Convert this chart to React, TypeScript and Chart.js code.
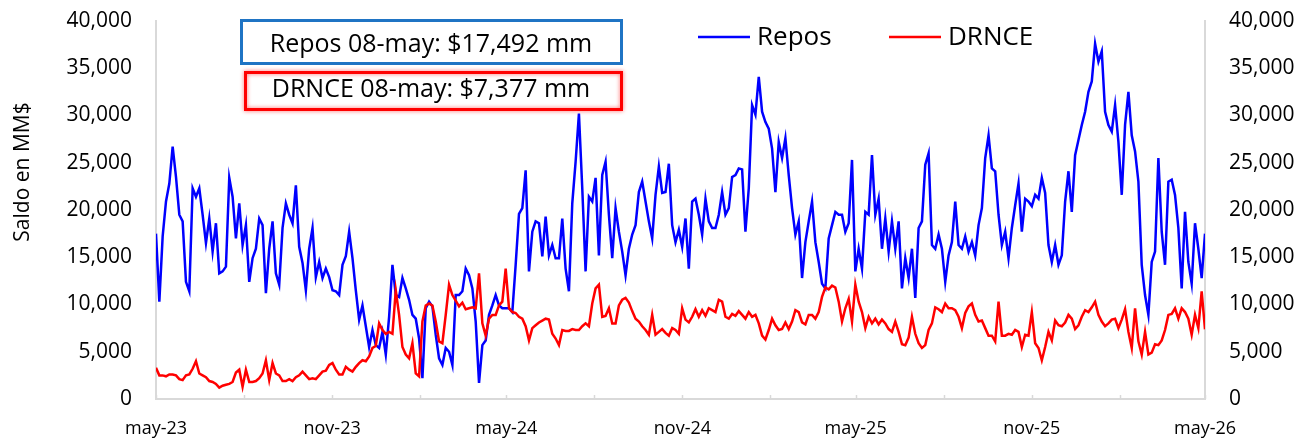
import React, { useEffect, useRef } from 'react';
import { Chart, registerables } from 'chart.js';

Chart.register(...registerables);

// ---------- data ----------
const SERIES_NAMES = ['Repos', 'DRNCE'];

// Saldo diario (MM$), may-23 .. 08-may-26
const REPOS = [
  17500, 10300, 17200, 20900, 22800, 26700, 23500, 19500, 18800, 12400,
  11400, 22300, 21400, 22300, 19500, 16500, 19100, 15600, 18600, 13300,
  13500, 14000, 23400, 21400, 17000, 20700, 16300, 18400, 12400, 14900,
  15900, 19100, 18400, 11200, 15900, 18800, 13300, 12100, 18100, 20700,
  19500, 18600, 22600, 16100, 14400, 11500, 15900, 18100, 12900, 14500,
  12800, 13800, 12900, 11500,
  11400, 11000, 14200, 15100, 17700, 14900, 11500, 8400, 9900, 7700,
  5500, 7300, 5700, 5400, 7100, 4700, 8700, 14200, 11000, 10800,
  12800, 11700, 10500, 8900, 8500, 6400, 2200, 9600, 10300, 9800,
  6800, 4300, 3600, 5400, 5000, 3600, 11000, 11000, 11400, 13800,
  13100, 11700, 8200, 1700, 5700, 6200, 8900, 9900, 11000, 9900,
  9600, 9600, 9600,
  9200, 14200, 19600, 20200, 24200, 13500, 17700, 18800, 18600, 15100,
  19300, 15200, 16300, 14900, 14900, 19100, 13800, 11400, 20700, 25100,
  30200, 22300, 13500, 21400, 20900, 23400, 15200, 23700, 25100, 19500,
  14900, 20200, 17700, 15600, 13100, 15900, 17400, 18400, 21900, 23000,
  20900, 18800, 17000, 21600, 24600, 21800, 21900, 24900, 18400, 16600,
  17900, 16100,
  19100, 13800, 20900, 21200, 19500, 17400, 21200, 18800, 18100, 18100,
  19500, 21900, 19500, 20200, 23500, 23700, 24400, 24300, 17700, 22300,
  31100, 30100, 34100, 30400, 29300, 28600, 26500, 21900, 27200, 25500,
  27600, 23700, 20200, 17400, 18800, 12800, 16600, 18800, 20900, 16600,
  14500, 12200, 11700, 17000, 18400, 19800, 19500, 19500, 17700, 18600,
  25300, 13500, 15900,
  13800, 19800, 19500, 25800, 19500, 21200, 15900, 19100, 15600, 18800,
  15900, 18800, 11700, 14900, 12800, 15900, 10700, 18100, 18800, 24800,
  26000, 16300, 15900, 17400, 15900, 12400, 15200, 16600, 20900, 16300,
  15900, 17200, 15600, 16600, 15200, 18400, 20200, 25500, 27900, 24400,
  24100, 19500, 16300, 17700, 14900, 18100, 20500, 22800, 17700, 21200,
  20900, 20400,
  21600, 21200, 23400, 21800, 16300, 14500, 16300, 14200, 15200, 20900,
  24100, 19800, 25800, 27400, 29000, 30400, 32500, 33600, 37600, 35700,
  36800, 30400, 29000, 28300, 31100, 27200, 21600, 29000, 32500, 27900,
  26200, 23000, 14200, 11000, 8900, 14500, 15600, 25500, 17700, 14200,
  23000, 23200, 21600, 18100, 11700, 19800, 14500, 12200, 18600, 15900,
  12800, 17492,
];

const DRNCE = [
  3300, 2500, 2500, 2400, 2600, 2600, 2500, 2100, 2000, 2500,
  2600, 3200, 4000, 2700, 2500, 2300, 1900, 1800, 1600, 1200,
  1400, 1500, 1600, 1800, 2800, 3100, 1300, 3100, 1800, 1800,
  1900, 2200, 2700, 4100, 2000, 3800, 2700, 2500, 1900, 1900,
  2100, 1900, 2300, 2500, 2900, 2500, 2100, 2200, 2100, 2500,
  2900, 3000, 3600, 3800,
  3100, 2600, 2600, 3400, 3100, 2900, 3400, 3800, 4100, 4000,
  4500, 5400, 5600, 8000, 7300, 6900, 7100, 6900, 11500, 8900,
  5500, 4700, 4300, 5900, 2700, 2400, 8200, 9900, 10100, 9900,
  8200, 6100, 5900, 8900, 12100, 11000, 10400, 9800, 10200, 9500,
  9600, 9700, 9600, 13300, 8000, 6700, 8500, 8900, 8900, 9900,
  10300, 13800, 9600,
  9200, 9100, 8700, 8500, 7700, 6200, 7500, 7800, 8100, 8300,
  8500, 8400, 6900, 6400, 5700, 7300, 7200, 7200, 7400, 7300,
  7300, 7700, 8000, 7700, 10100, 11700, 12100, 8700, 8800, 9600,
  8000, 8000, 9900, 10500, 10700, 10200, 9300, 8500, 8200, 7700,
  7300, 6800, 8900, 6800, 7100, 7400, 7000, 6700, 7500, 7300,
  6900, 9600,
  8400, 8100, 8700, 9500, 8700, 9400, 8800, 9600, 9400, 9200,
  10500, 10300, 8700, 8500, 9000, 8800, 9300, 8900, 8500, 9200,
  8700, 8900, 8000, 6700, 6300, 7300, 8500, 7800, 7300, 7400,
  8100, 7400, 8200, 9400, 9200, 8100, 7900, 8900, 8900, 8500,
  9200, 10800, 11800, 11600, 12000, 11800, 10300, 8200, 9600, 10600,
  8200, 12100, 10300,
  9200, 7500, 8700, 8000, 8500, 7900, 8400, 8000, 7400, 7100,
  8200, 7100, 5800, 5700, 6500, 8700, 6900, 5900, 5400, 5700,
  7300, 8000, 9700, 9500, 9200, 10100, 9600, 9600, 9400, 8700,
  7500, 9100, 9800, 10100, 8900, 8200, 8300, 7500, 6700, 6700,
  6100, 10300, 6700, 6700, 6900, 6800, 7300, 7100, 5500, 6800,
  6700, 9200,
  5900, 5400, 4100, 5500, 7100, 6200, 8300, 7800, 7700, 8100,
  8900, 8500, 7400, 7800, 8700, 9400, 9200, 9700, 10300, 8900,
  8200, 7700, 8000, 8400, 8500, 7500, 8400, 9500, 7100, 5400,
  9600, 6100, 4700, 7100, 4700, 4900, 5800, 5700, 6200, 7300,
  8900, 9000, 9600, 8500, 9600, 9200, 8500, 6800, 8900, 7500,
  11400, 7377,
];

const START_YEAR = 2023;
const START_MONTH = 4; // May
const AXIS_MONTHS = 36;
const TICK_LABELS = ['may-23', 'nov-23', 'may-24', 'nov-24', 'may-25', 'nov-25', 'may-26'];
const BOX_TEXTS = ['Repos 08-may: $17,492 mm', 'DRNCE 08-may: $7,377 mm'];
const Y_TITLE = 'Saldo en MM$';
const Y_MAX = 40000;
const Y_STEP = 5000;

// ---------- derived ----------
const DAY_MS = 86400000;
const START_MS = Date.UTC(START_YEAR, START_MONTH, 1);
const QUARTER_DAYS: number[] = [];
for (let m = 0; m <= AXIS_MONTHS; m += 3) {
  QUARTER_DAYS.push(Math.round((Date.UTC(START_YEAR, START_MONTH + m, 1) - START_MS) / DAY_MS));
}
const SPAN_DAYS = QUARTER_DAYS[QUARTER_DAYS.length - 1];
const LABEL_BY_DAY = new Map<number, string>();
QUARTER_DAYS.forEach((d, k) => {
  if (k % 2 === 0) LABEL_BY_DAY.set(d, TICK_LABELS[k / 2]);
});
const toPoints = (arr: number[]) =>
  arr.map((y, i) => ({ x: (i * SPAN_DAYS) / (arr.length - 1), y }));

const FONT = '"Open Sans", "DejaVu Sans", sans-serif';
const BLUE = '#0000FF';
const RED = '#FF0000';
const AXIS_GREY = '#d9d9d9';

const overlayPlugin = {
  id: 'overlay',
  beforeDatasetsDraw(chart: any) {
    const { ctx, chartArea, scales } = chart;
    const xs = scales.x;
    ctx.save();
    ctx.strokeStyle = AXIS_GREY;
    ctx.lineWidth = 1.5;
    xs.ticks.forEach((t: any) => {
      const px = Math.round(xs.getPixelForValue(t.value)) + 0.5;
      ctx.beginPath();
      ctx.moveTo(px, chartArea.bottom);
      ctx.lineTo(px, chartArea.bottom - 4);
      ctx.stroke();
    });
    ctx.restore();
  },
  afterDraw(chart: any) {
    const { ctx } = chart;
    ctx.save();
    // y-axis title
    ctx.save();
    ctx.translate(29, 172);
    ctx.rotate(-Math.PI / 2);
    ctx.font = `21px ${FONT}`;
    ctx.fillStyle = '#000';
    ctx.textAlign = 'center';
    ctx.textBaseline = 'alphabetic';
    ctx.fillText(Y_TITLE, 0, 0);
    ctx.restore();

    // annotation boxes
    const boxes = [
      { x: 241.5, y: 20.5, w: 380, h: 43, color: '#1f74c4', text: BOX_TEXTS[0], base: 52, glow: false },
      { x: 245.5, y: 72.5, w: 376, h: 37, color: RED, text: BOX_TEXTS[1], base: 97, glow: true },
    ];
    boxes.forEach((b) => {
      ctx.save();
      ctx.fillStyle = '#fff';
      ctx.fillRect(b.x, b.y, b.w, b.h);
      if (b.glow) {
        ctx.shadowColor = 'rgba(255,0,0,0.6)';
        ctx.shadowBlur = 4;
      }
      ctx.strokeStyle = b.color;
      ctx.lineWidth = 3;
      ctx.strokeRect(b.x, b.y, b.w, b.h);
      ctx.restore();
      ctx.font = `25px ${FONT}`;
      ctx.fillStyle = '#000';
      ctx.textAlign = 'center';
      ctx.textBaseline = 'alphabetic';
      ctx.fillText(b.text, 431, b.base);
    });

    // legend
    const legend = [
      { x0: 698, x1: 750, tx: 757, color: BLUE, text: SERIES_NAMES[0] },
      { x0: 889, x1: 941, tx: 948, color: RED, text: SERIES_NAMES[1] },
    ];
    legend.forEach((l) => {
      ctx.strokeStyle = l.color;
      ctx.lineWidth = 2.5;
      ctx.beginPath();
      ctx.moveTo(l.x0, 37);
      ctx.lineTo(l.x1, 37);
      ctx.stroke();
      ctx.font = `26px ${FONT}`;
      ctx.fillStyle = '#000';
      ctx.textAlign = 'left';
      ctx.textBaseline = 'alphabetic';
      ctx.fillText(l.text, l.tx, 45);
    });
    ctx.restore();
  },
};

export default function App() {
  const canvasRef = useRef<HTMLCanvasElement | null>(null);

  useEffect(() => {
    const canvas = canvasRef.current;
    if (!canvas) return;
    const yTicks = {
      stepSize: Y_STEP,
      padding: 24,
      color: '#000',
      font: { family: FONT, size: 21 },
      callback: (v: any) => Number(v).toLocaleString('en-US'),
    };
    const fitY = (width: number) => (scale: any) => {
      scale.width = width;
      scale.paddingTop = 0;
      scale.paddingBottom = 0;
    };
    const chart = new Chart(canvas, {
      type: 'line',
      data: {
        datasets: [
          {
            label: SERIES_NAMES[0],
            data: toPoints(REPOS),
            borderColor: BLUE,
            backgroundColor: BLUE,
            borderWidth: 2.5,
            pointRadius: 0,
            tension: 0,
            order: 1,
            yAxisID: 'y',
          },
          {
            label: SERIES_NAMES[1],
            data: toPoints(DRNCE),
            borderColor: RED,
            backgroundColor: RED,
            borderWidth: 2.5,
            pointRadius: 0,
            tension: 0,
            order: 0,
            yAxisID: 'y',
          },
        ],
      },
      options: {
        animation: false,
        responsive: false,
        layout: { padding: { top: 21, left: 0, right: 0, bottom: 0 } },
        plugins: { legend: { display: false }, tooltip: { enabled: false } },
        scales: {
          x: {
            type: 'linear',
            min: 0,
            max: SPAN_DAYS,
            afterBuildTicks: (scale: any) => {
              scale.ticks = QUARTER_DAYS.map((v) => ({ value: v }));
            },
            afterFit: (scale: any) => {
              scale.height = 40;
              scale.paddingLeft = 0;
              scale.paddingRight = 0;
            },
            ticks: {
              autoSkip: false,
              maxRotation: 0,
              padding: 19,
              color: '#000',
              font: { family: FONT, size: 18 },
              callback: (v: any) => LABEL_BY_DAY.get(Math.round(Number(v))) ?? '',
            },
            grid: { drawOnChartArea: false, drawTicks: false },
            border: { display: true, color: AXIS_GREY, width: 2 },
          },
          y: {
            position: 'left',
            min: 0,
            max: Y_MAX,
            afterFit: fitY(156),
            ticks: yTicks,
            grid: { drawOnChartArea: false, drawTicks: false },
            border: { display: true, color: AXIS_GREY, width: 2 },
          },
          y2: {
            position: 'right',
            min: 0,
            max: Y_MAX,
            afterFit: fitY(93),
            ticks: yTicks,
            grid: { drawOnChartArea: false, drawTicks: false },
            border: { display: true, color: AXIS_GREY, width: 2 },
          },
        },
      },
      plugins: [overlayPlugin],
    } as any);
    return () => chart.destroy();
  }, []);

  return (
    <div style={{ position: 'fixed', left: 0, top: 0, width: 1298, height: 439, background: '#fff' }}>
      <canvas ref={canvasRef} width={1298} height={439} style={{ display: 'block' }} />
    </div>
  );
}
